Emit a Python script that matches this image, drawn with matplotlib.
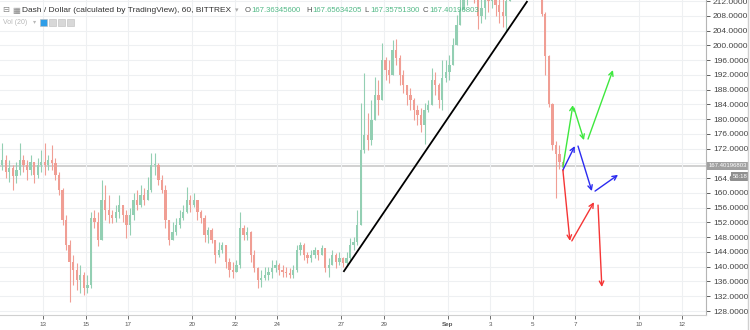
import matplotlib
matplotlib.use('Agg')
import matplotlib.pyplot as plt
import numpy as np

plt.rcParams['font.family'] = ['Liberation Sans', 'DejaVu Sans']

# 4h candles starting Aug 11 00:00, x axis = day of August (Sep 1 = 32)
start_day = 11
step = 1 / 6
first_open = 167.6

closes = [
    168.9, 165.7, 166.8, 164.6, 166.2, 168.9, 167.6, 166.2, 168.4, 164.9,
    167.6, 168.4, 167.6, 168.9, 168.1, 164.9, 160.8, 152.7, 145.9, 141.3,
    139.1, 136.4, 137.8, 134.2, 135.0, 153.2, 152.1, 147.2, 158.1, 155.4,
    154.0, 153.2, 154.8, 156.7, 154.0, 151.3, 154.0, 158.1, 156.7, 159.4,
    158.1, 160.8, 167.6, 167.6, 163.5, 160.8, 152.7, 147.2, 149.4, 151.3,
    153.2, 154.8, 158.1, 156.7, 158.1, 154.8, 153.2, 148.6, 150.0, 147.2,
    143.2, 144.5, 145.9, 141.3, 139.1, 138.6, 140.5, 150.5, 148.6, 149.4,
    143.2, 139.7, 136.4, 136.9, 137.8, 138.6, 139.7, 140.5, 139.1, 138.6,
    138.3, 137.8, 139.1, 144.5, 145.9, 143.2, 142.4, 143.2, 144.5, 143.2,
    145.1, 139.7, 140.5, 143.2, 141.3, 142.4, 141.0, 142.4, 145.9, 146.7,
    151.3, 171.6, 175.7, 174.3, 179.8, 186.5, 185.2, 196.0, 193.3, 192.0,
    198.7, 196.6, 192.0, 189.2, 186.5, 185.2, 182.5, 181.1, 178.4, 182.5,
    183.8, 190.6, 189.2, 185.2, 191.1, 192.8, 194.7, 200.1, 205.5, 209.6,
    213.5, 214.0, 215.0, 214.0, 208.0, 210.0, 213.0, 212.0, 214.0, 211.0,
    209.0, 208.0, 212.0, 216.0, 218.0, 220.0, 219.0, 217.0, 218.0, 216.0,
    217.0, 215.0, 208.5, 197.0, 184.0, 173.0, 170.5, 168.5, 167.4,
]
highs = [
    173.5, 170.3, 168.9, 167.6, 168.4, 173.5, 170.3, 168.9, 170.3, 168.4,
    169.5, 171.6, 173.5, 170.3, 173.0, 169.5, 165.7, 161.3, 154.0, 147.2,
    143.2, 141.0, 140.5, 138.6, 137.8, 154.8, 155.4, 154.8, 163.5, 162.1,
    159.4, 155.4, 156.7, 159.4, 156.7, 155.4, 155.9, 160.0, 160.8, 162.1,
    161.3, 164.3, 170.8, 170.8, 168.1, 164.9, 162.1, 152.7, 152.1, 153.2,
    155.4, 156.7, 161.6, 159.4, 160.0, 158.1, 155.4, 154.0, 150.8, 150.5,
    147.2, 146.7, 146.7, 145.9, 142.4, 141.3, 141.8, 154.8, 151.3, 150.8,
    149.8, 144.5, 140.0, 139.1, 139.9, 139.9, 141.8, 141.8, 141.0, 140.5,
    139.9, 139.7, 140.5, 145.9, 146.7, 146.3, 144.0, 144.5, 145.3, 144.5,
    145.9, 145.1, 142.4, 144.5, 143.7, 144.0, 142.6, 144.0, 147.8, 148.1,
    155.4, 184.4, 192.5, 181.7, 185.2, 191.4, 190.6, 200.6, 196.8, 196.0,
    201.4, 201.7, 197.5, 193.3, 189.2, 188.4, 185.8, 183.8, 183.0, 184.4,
    185.2, 193.9, 192.8, 189.8, 196.0, 196.0, 197.4, 202.0, 208.2, 213.6,
    216.0, 217.0, 218.0, 217.0, 215.0, 214.0, 216.0, 216.0, 217.0, 216.0,
    214.0, 213.0, 216.0, 219.0, 221.0, 223.0, 222.0, 221.0, 222.0, 220.0,
    220.0, 219.0, 216.0, 209.0, 197.5, 184.5, 174.0, 173.0, 169.0,
]
lows = [
    166.2, 164.0, 163.0, 160.8, 162.7, 164.9, 165.7, 163.5, 164.9, 162.7,
    164.0, 165.7, 164.9, 166.2, 166.2, 163.5, 159.4, 151.3, 144.5, 130.4,
    135.0, 133.7, 132.9, 132.3, 132.9, 134.2, 150.5, 145.6, 147.2, 152.7,
    151.8, 151.8, 152.1, 153.2, 152.1, 147.8, 148.6, 152.7, 155.4, 156.2,
    156.7, 158.1, 160.2, 164.9, 162.1, 160.0, 150.5, 145.9, 147.2, 148.6,
    150.5, 152.7, 154.6, 154.8, 156.2, 152.7, 151.8, 146.7, 146.4, 146.4,
    141.0, 142.6, 143.7, 139.7, 137.2, 136.9, 139.1, 139.7, 147.2, 147.2,
    141.3, 138.6, 134.2, 134.5, 136.4, 136.4, 136.9, 138.6, 137.8, 137.2,
    137.2, 136.9, 136.9, 138.6, 143.2, 141.8, 141.0, 141.3, 142.4, 141.8,
    143.2, 138.6, 137.2, 140.5, 139.7, 140.5, 139.9, 140.5, 141.8, 144.5,
    145.9, 151.3, 170.8, 171.6, 173.0, 179.8, 181.1, 190.6, 190.6, 189.8,
    192.0, 194.7, 189.2, 187.1, 183.8, 182.5, 179.8, 178.4, 176.5, 173.3,
    181.9, 183.8, 186.5, 183.0, 182.5, 190.1, 190.6, 196.0, 201.4, 206.9,
    209.5, 211.0, 212.5, 211.5, 204.5, 206.0, 207.0, 209.0, 210.0, 208.0,
    206.0, 205.0, 204.0, 213.0, 215.0, 216.0, 215.0, 214.0, 214.5, 213.5,
    213.0, 213.0, 208.0, 192.0, 183.3, 171.5, 158.6, 166.5, 166.0,
]

last_price = 167.40196803
tick_days = [13, 15, 17, 20, 22, 24, 27, 29, 32, 34, 36, 38, 41, 43]
tick_labels = ['13', '15', '17', '20', '22', '24', '27', '29', 'Sep', '3', '5', '7', '10', '12']
price_ticks = np.arange(128, 213, 4)

# drawn trend line and scenario arrows (day, price)
trend_days = [27.13, 35.72]
trend_prices = [138.8, 211.8]
green_arrows = [(37.41, 167.0, 37.88, 183.8), (37.93, 183.0, 38.40, 174.3), (38.59, 174.6, 39.76, 193.3)]
blue_arrows = [(37.41, 166.2, 37.97, 172.7), (38.12, 172.7, 38.77, 160.5), (38.92, 160.5, 40.0, 164.9)]
red_arrows = [(37.41, 166.2, 37.74, 147.0), (37.83, 147.0, 38.87, 157.5), (39.06, 156.7, 39.24, 134.5)]

closes = np.array(closes)
opens = np.concatenate([[first_open], closes[:-1]])
highs = np.maximum(np.array(highs), np.maximum(opens, closes))
lows = np.minimum(np.array(lows), np.minimum(opens, closes))
t = start_day + step * (np.arange(len(closes)) + 0.5)
up = closes >= opens
cols = np.where(up, '#93cfb3', '#f09e94')

fig = plt.figure(figsize=(7.5, 3.3), dpi=100)
ax = fig.add_axes([0, 15 / 330, 706 / 750, 315 / 330])

ax.vlines(t, lows, highs, colors=cols, lw=0.8, zorder=2)
ax.bar(t, np.maximum(np.abs(closes - opens), 0.15), bottom=np.minimum(opens, closes),
       width=step * 0.65, color=cols, zorder=3)

ax.axhline(last_price, color='#c9c9c9', lw=1.2, zorder=1)
ax.plot(trend_days, trend_prices, color='black', lw=1.3, zorder=4)

for arrows, c in [(green_arrows, '#3ee83e'), (blue_arrows, '#2b2bf0'), (red_arrows, '#f53535')]:
    for d0, p0, d1, p1 in arrows:
        ax.annotate('', xy=(d1, p1), xytext=(d0, p0),
                    arrowprops=dict(arrowstyle='->', color=c, lw=1.0,
                                    shrinkA=0, shrinkB=0, mutation_scale=8), zorder=5)

ax.set_xlim(10.98, 44.13)
ax.set_ylim(126.92, 212.28)
ax.set_xticks(tick_days)
ax.set_xticklabels(tick_labels)
ax.set_yticks(price_ticks)
# the 168 label sits under the last-price box, as in TradingView
ax.set_yticklabels(['' if p == 168 else f'{p:.4f}' for p in price_ticks])
ax.yaxis.tick_right()
ax.tick_params(axis='y', labelsize=6, colors='#444444', length=3, width=0.6, pad=2)
ax.tick_params(axis='x', labelsize=4.5, colors='#555555', length=3, width=0.6, pad=2)
for lab in ax.get_xticklabels():
    if lab.get_text() == 'Sep':
        lab.set_fontweight('bold')
ax.grid(True, color='#eef0f2', lw=0.8, zorder=0)
for s in ['top', 'left']:
    ax.spines[s].set_visible(False)
ax.spines['right'].set_color('#b5b5b5')
ax.spines['right'].set_linewidth(0.8)
ax.spines['bottom'].set_color('#d0d0d0')
ax.spines['bottom'].set_linewidth(0.8)

# price label on the axis
ax.annotate('167.40196803', xy=(1.0, last_price), xycoords=('axes fraction', 'data'),
            xytext=(2, 0), textcoords='offset points', ha='left', va='center',
            fontsize=4.3, color='white', annotation_clip=False, zorder=10,
            bbox=dict(boxstyle='square,pad=0.25', fc='#a0a0a0', ec='none'))
ax.annotate('56:18', xy=(1.0, last_price), xycoords=('axes fraction', 'data'),
            xytext=(19, -8), textcoords='offset points', ha='left', va='center',
            fontsize=4.3, color='white', annotation_clip=False, zorder=10,
            bbox=dict(boxstyle='square,pad=0.3', fc='#909090', ec='none'))

# header legend
def ft(x, y, s, **kw):
    fig.text(x / 750, 1 - y / 330, s, va='center', ha='left', **kw)

ft(2, 10, '\u229f', fontsize=6, color='#888888', family=['DejaVu Sans'])
ft(12, 10, '\u25a6', fontsize=6, color='#888888', family=['DejaVu Sans'])
ft(22, 10, 'Dash / Dollar (calculated by TradingView), 60, BITTREX', fontsize=6.05, color='#333333')
ft(235, 10, '\u25be', fontsize=5, color='#aaaaaa', family=['DejaVu Sans'])
for lx, letter, vx, val in [(245, 'O', 251, '167.36345600'), (306, 'H', 312, '167.65634205'),
                            (364, 'L', 370, '167.35751300'), (423, 'C', 429, '167.40196803')]:
    ft(lx, 10, letter, fontsize=5.6, color='#555555')
    ft(vx, 10, val, fontsize=5.6, color='#53b987')
ft(3, 22, 'Vol (20)', fontsize=5, color='#b8b8b8')
ft(33, 22, '\u25be', fontsize=4.5, color='#b8b8b8', family=['DejaVu Sans'])
for x0, fc in [(40, '#2f9ee8'), (49, '#d8d8d8'), (58, '#d8d8d8'), (67, '#d8d8d8')]:
    fig.patches.append(plt.Rectangle((x0 / 750, 1 - 26 / 330), 7 / 750, 7 / 330,
                                     transform=fig.transFigure, fc=fc, ec='#bbbbbb', lw=0.4))
fig.add_artist(plt.Line2D([748 / 750, 748 / 750], [0, 1], color='#d0d0d0', lw=1))

fig.savefig('out.png', dpi=100)
